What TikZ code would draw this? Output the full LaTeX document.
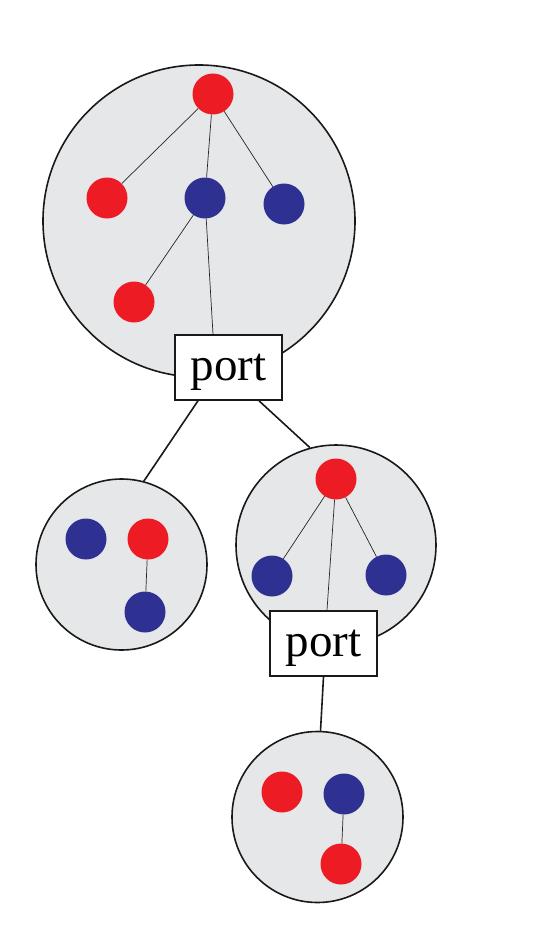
\documentclass[tikz,border=0pt]{standalone}
\usepackage{fontspec}
\setmainfont{Liberation Serif}
\usepackage{xcolor}
\usepackage{tikz}
\definecolor{dotred}{HTML}{ED1C24}
\definecolor{dotblue}{HTML}{2E3192}
\definecolor{cellgray}{HTML}{E6E7E8}

\begin{document}
\begin{tikzpicture}[x=1pt, y=-1pt,
				cell/.style={draw=black!90, fill=cellgray, circle, line width=1.6pt, inner sep=0pt},
				reddot/.style={fill=dotred, circle, minimum size=41pt, inner sep=0pt},
				bluedot/.style={fill=dotblue, circle, minimum size=41pt, inner sep=0pt},
				portbox/.style={draw=black!90, fill=white, rectangle, line width=1.6pt,
						minimum width=107pt, minimum height=65pt, inner sep=0pt, text depth=0pt,
						font=\fontsize{47}{50}\selectfont},
				edge/.style={line width=0.7pt, black!85},
				link/.style={line width=1.6pt, black!90},
			]
			\useasboundingbox (0,0) rectangle (548,939);
			% cells
			\node[cell, minimum size=312pt] (ctop) at (199, 221) {};
			\node[cell, minimum size=171pt] (cleft) at (121.5, 564.5) {};
			\node[cell, minimum size=200pt] (cright) at (336, 545) {};
			\node[cell, minimum size=171pt] (cbot) at (317.5, 817) {};
			% top cell
			\node[reddot]  (t0) at (213, 94) {};
			\node[reddot]  (t1) at (107, 198) {};
			\node[bluedot] (t2) at (205, 198) {};
			\node[bluedot] (t3) at (284, 204) {};
			\node[reddot]  (t4) at (134, 302) {};
			\draw[edge] (t0) -- (t1);
			\draw[edge] (t0) -- (t2);
			\draw[edge] (t0) -- (t3);
			\draw[edge] (t2) -- (t4);
			% left cell
			\node[bluedot] (l1) at (86, 539) {};
			\node[reddot]  (l2) at (148, 539) {};
			\node[bluedot] (l3) at (145, 612) {};
			\draw[edge] (l2) -- (l3);
			% right cell
			\node[reddot]  (r0) at (336, 479) {};
			\node[bluedot] (r1) at (272, 576) {};
			\node[bluedot] (r2) at (386, 575) {};
			\draw[edge] (r0) -- (r1);
			\draw[edge] (r0) -- (r2);
			% bottom cell
			\node[reddot]  (b1) at (282, 792) {};
			\node[bluedot] (b2) at (344, 794) {};
			\node[reddot]  (b3) at (341, 864) {};
			\draw[edge] (b2) -- (b3);
			% ports
			\node[portbox] (port1) at (228.5, 367.5) {port};
			\node[portbox] (port2) at (323.5, 643.5) {port};
			\draw[edge] (t2) -- ([xshift=-15.5pt]port1.north);
			\draw[edge] (r0) -- ([xshift=3.5pt]port2.north);
			\draw[link] ([xshift=-30.5pt]port1.south) -- (cleft.75);
			\draw[link] ([xshift=30.5pt]port1.south) -- (cright.105);
			\draw[link] (port2.south) -- (cbot.88);
		\end{tikzpicture}
\end{document}
